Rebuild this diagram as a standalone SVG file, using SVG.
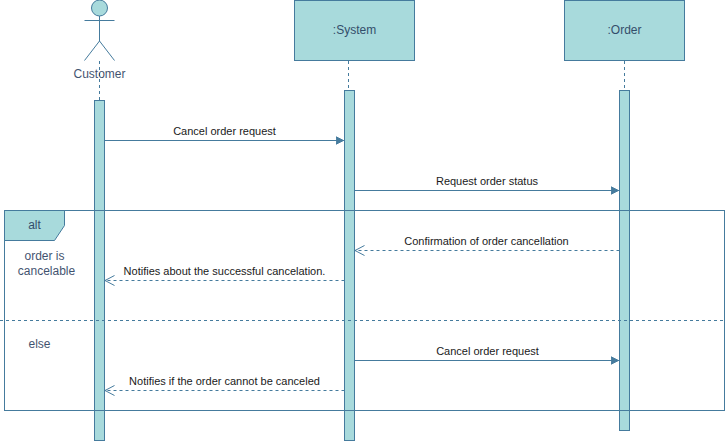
<svg xmlns="http://www.w3.org/2000/svg" width="726" height="441" viewBox="0 0 726 441">
<style>
.s{stroke:#457b9d;stroke-width:1;fill:none}
.f{fill:#a8dadc;stroke:#457b9d;stroke-width:1}
.d{stroke:#457b9d;stroke-width:1;fill:none;stroke-dasharray:3 3}
.t{font-family:"Liberation Sans",Arial,sans-serif;font-size:12px;fill:#1d3557;text-anchor:middle;opacity:.85}
.m{font-family:"Liberation Sans",Arial,sans-serif;font-size:11px;fill:#1a1a1a;text-anchor:middle}
</style>
<defs>
<marker id="solid" markerWidth="10" markerHeight="10" refX="8.500" refY="5" orient="auto" markerUnits="userSpaceOnUse"><path d="M0 1L8 5L0 9L1.500 5Z" fill="#457b9d" stroke="#457b9d"/></marker>
<marker id="open" markerWidth="12" markerHeight="12" refX="10" refY="6" orient="auto" markerUnits="userSpaceOnUse"><path d="M0.500 1L10 6L0.500 11" fill="none" stroke="#457b9d"/></marker>
</defs>
<g id="lifelines">
<path class="d" d="M99.500 61V100"/>
<path class="d" d="M348.500 61V90"/>
<path class="d" d="M624.500 61V90"/>
</g>
<g id="node-customer">
<circle class="f" cx="99.500" cy="8" r="8"/>
<path class="s" d="M99.500 16V41M84.500 20.500H114.500M84.500 60.500L99.500 41L114.500 60.500"/>
<text class="t" x="99.500" y="78">Customer</text>
</g>
<g id="node-system">
<rect class="f" x="294.500" y="0.500" width="120" height="60"/>
<text class="t" x="354.500" y="34">:System</text>
</g>
<g id="node-order">
<rect class="f" x="564.500" y="0.500" width="120" height="60"/>
<text class="t" x="624.500" y="34">:Order</text>
</g>
<g id="activation-customer"><rect class="f" x="94.500" y="100.500" width="10" height="340"/></g>
<g id="activation-system"><rect class="f" x="344.500" y="90.500" width="10" height="350"/></g>
<g id="activation-order"><rect class="f" x="619.500" y="90.500" width="10" height="340"/></g>
<g id="node-alt">
<rect class="s" x="4.500" y="210.500" width="720" height="200"/>
<path class="f" d="M4.500 210.500H64.500V225.500L54.500 240.500H4.500Z"/>
<text class="t" x="34.500" y="229">alt</text>
<text class="t" x="44.500" y="260">order is</text>
<text class="t" x="46.500" y="275">cancelable</text>
<text class="t" x="39.500" y="348">else</text>
<path class="d" d="M0 320.500H726"/>
</g>
<g id="connectors">
<path class="s" d="M104.500 140.500H344" marker-end="url(#solid)"/>
<path class="s" d="M354.500 190.500H619" marker-end="url(#solid)"/>
<path class="d" d="M619.500 250.500H355" marker-end="url(#open)"/>
<path class="d" d="M344.500 280.500H105" marker-end="url(#open)"/>
<path class="s" d="M354.500 360.500H619" marker-end="url(#solid)"/>
<path class="d" d="M344.500 390.500H105" marker-end="url(#open)"/>
<text class="m" x="224.500" y="135">Cancel order request</text>
<text class="m" x="487" y="185">Request order status</text>
<text class="m" x="486.500" y="245">Confirmation of order cancellation</text>
<text class="m" x="224.500" y="275">Notifies about the successful cancelation.</text>
<text class="m" x="487.500" y="355">Cancel order request</text>
<text class="m" x="224.500" y="385">Notifies if the order cannot be canceled</text>
</g>
</svg>
